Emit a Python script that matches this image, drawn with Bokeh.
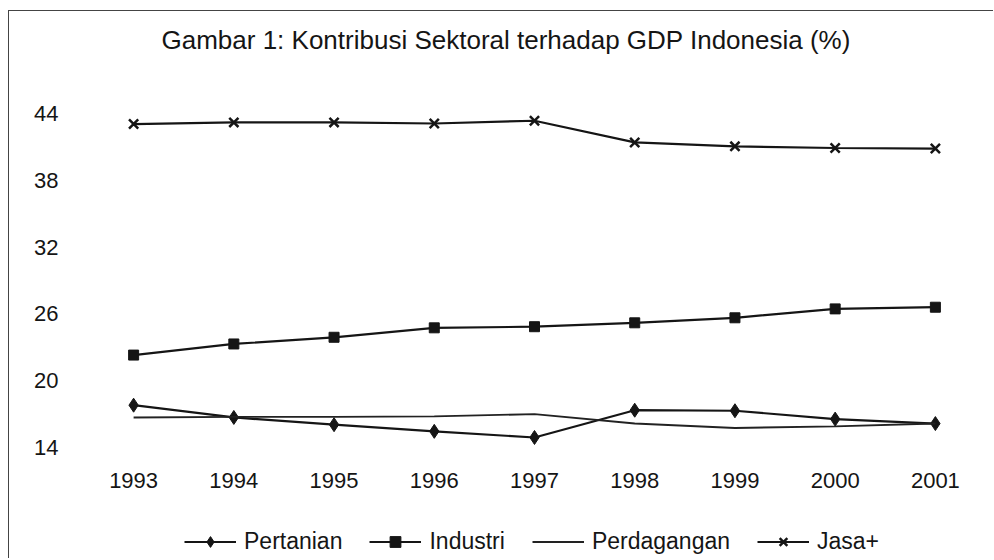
from bokeh.plotting import figure
from bokeh.models import Range1d, FixedTicker, Legend, LegendItem, Title
from bokeh.embed import file_html
from bokeh.resources import INLINE

years = [1993, 1994, 1995, 1996, 1997, 1998, 1999, 2000, 2001]
pertanian = [17.8, 16.7, 16.05, 15.45, 14.9, 17.35, 17.3, 16.55, 16.15]
industri = [22.3, 23.3, 23.9, 24.75, 24.85, 25.2, 25.65, 26.45, 26.6]
perdagangan = [16.7, 16.75, 16.75, 16.8, 17.0, 16.15, 15.75, 15.9, 16.15]
jasa = [43.05, 43.2, 43.2, 43.1, 43.35, 41.4, 41.05, 40.9, 40.85]
y_ticks = [14, 20, 26, 32, 38, 44]
title_text = "Gambar 1: Kontribusi Sektoral terhadap GDP Indonesia (%)"

FONT = "Liberation Sans"
INK = "#151515"

# layout (pixels): value axis 14..44 spans 334 px; frame continues below
# the lowest tick to hold the legend under the year labels.
AXIS_PX = 334
EXTRA_PX = 111
y_lo, y_hi = y_ticks[0], y_ticks[-1]
px_per_unit = AXIS_PX / (y_hi - y_lo)
y_start = y_lo - EXTRA_PX / px_per_unit

p = figure(frame_width=902, frame_height=AXIS_PX + EXTRA_PX, output_backend="svg",
           toolbar_location=None,
           x_range=Range1d(1992.5, 2001.5), y_range=Range1d(y_start, y_hi), title=None,
           min_border_left=74, min_border_right=8, min_border_top=102,
           min_border_bottom=0)
p.styles = {"border-left": "1px solid #444", "border-top": "1px solid #444",
            "margin-left": "8px", "margin-top": "10px"}
p.outline_line_color = None
p.grid.grid_line_color = None
p.background_fill_color = "white"
p.border_fill_color = "white"

# spacer between frame and title (nearest to frame)
spacer = Title(text=" ", text_font_size="10px", standoff=41, text_color="white")
p.add_layout(spacer, "above")
main_title = Title(text=title_text, align="left", offset=78, standoff=10,
                   text_font=FONT, text_font_size="26px", text_font_style="normal",
                   text_color=INK, vertical_align="bottom")
p.add_layout(main_title, "above")

for ax in (p.xaxis[0], p.yaxis[0]):
    ax.axis_line_color = None
    ax.major_tick_line_color = None
    ax.minor_tick_line_color = None
    ax.major_tick_out = 0
    ax.major_tick_in = 0
    ax.minor_tick_out = 0
    ax.minor_tick_in = 0
    ax.major_label_text_font = FONT
    ax.major_label_text_font_size = "22px"
    ax.major_label_text_color = INK

p.xaxis[0].ticker = FixedTicker(ticks=years)
p.xaxis[0].fixed_location = y_lo
p.xaxis[0].major_label_standoff = 25
p.yaxis[0].ticker = FixedTicker(ticks=y_ticks)
p.yaxis[0].major_label_standoff = 25

r1l = p.line(years, pertanian, line_color=INK, line_width=2.2)
r1m = p.scatter(years, pertanian, marker="diamond", size=14,
                fill_color=INK, line_color=INK, line_width=1)
r2l = p.line(years, industri, line_color=INK, line_width=2.2)
r2m = p.scatter(years, industri, marker="square", size=10,
                fill_color=INK, line_color=INK)
r3l = p.line(years, perdagangan, line_color="#222222", line_width=1.9)
r4l = p.line(years, jasa, line_color=INK, line_width=2.2)
r4m = p.scatter(years, jasa, marker="x", size=13, line_color=INK, line_width=2.5)

legend = Legend(items=[
    LegendItem(label="Pertanian", renderers=[r1l, r1m]),
    LegendItem(label="Industri", renderers=[r2l, r2m]),
    LegendItem(label="Perdagangan", renderers=[r3l]),
    LegendItem(label="Jasa+", renderers=[r4l, r4m]),
], orientation="horizontal", location=(101, 3))
legend.glyph_width = 52
legend.glyph_height = 27
legend.label_standoff = 8
legend.spacing = 27
legend.padding = 4
legend.margin = 0
legend.label_text_font = FONT
legend.label_text_font_size = "23px"
legend.label_text_color = INK
legend.border_line_color = None
legend.background_fill_alpha = 0
p.add_layout(legend, "center")

open("out.html", "w").write(file_html(p, INLINE))
